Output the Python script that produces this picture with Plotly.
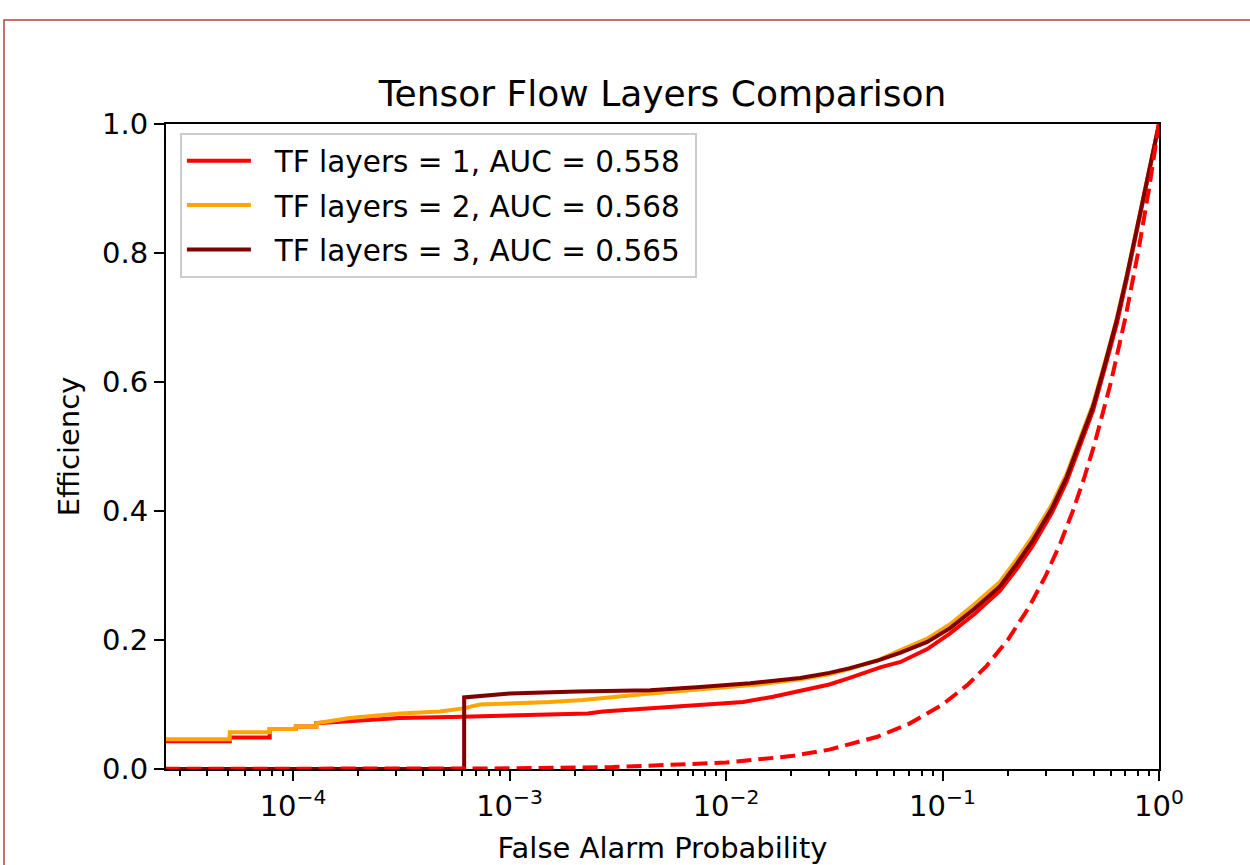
import plotly.graph_objects as go

# ---------------- data ----------------
tf1_fpr = [1e-5, 5.1e-5, 5.1e-5, 7.8e-5, 7.8e-5, 1.03e-4, 1.03e-4, 1.28e-4, 1.28e-4,
           1.6e-4, 3.1e-4, 6.1e-4, 1.5e-3, 2.3e-3, 2.7e-3, 6.3e-3, 0.012, 0.0165,
           0.022, 0.03, 0.037, 0.045, 0.052, 0.064, 0.085, 0.108, 0.14, 0.184, 0.22, 0.262,
           0.32, 0.375, 0.43, 0.496, 0.56, 0.638, 0.71, 0.789, 0.89, 1.0]
tf1_tpr = [0.043, 0.043, 0.049, 0.049, 0.062, 0.062, 0.066, 0.066, 0.071,
           0.073, 0.079, 0.081, 0.084, 0.086, 0.089, 0.097, 0.104, 0.112,
           0.121, 0.131, 0.141, 0.151, 0.158, 0.166, 0.186, 0.210, 0.240, 0.276, 0.310, 0.347,
           0.397, 0.446, 0.499, 0.556, 0.620, 0.690, 0.760, 0.832, 0.915, 1.0]

tf2_fpr = [1e-5, 5.1e-5, 5.1e-5, 7.8e-5, 7.8e-5, 1.03e-4, 1.03e-4, 1.28e-4, 1.28e-4,
           1.83e-4, 3.12e-4, 4.77e-4, 6.1e-4, 7.3e-4, 1.54e-3, 2.18e-3, 4.46e-3, 8.4e-3,
           0.015, 0.022, 0.03, 0.037, 0.0515, 0.0636, 0.085, 0.108, 0.14, 0.184, 0.22, 0.262,
           0.32, 0.375, 0.43, 0.496, 0.56, 0.638, 0.71, 0.789, 0.89, 1.0]
tf2_tpr = [0.046, 0.046, 0.057, 0.057, 0.062, 0.062, 0.066, 0.066, 0.071,
           0.079, 0.086, 0.089, 0.094, 0.100, 0.104, 0.107, 0.117, 0.125,
           0.132, 0.139, 0.147, 0.155, 0.170, 0.184, 0.202, 0.224, 0.255, 0.290, 0.325, 0.362,
           0.410, 0.458, 0.510, 0.566, 0.628, 0.698, 0.765, 0.837, 0.918, 1.0]

tf3_fpr = [1e-5, 6.17e-4, 6.17e-4, 1.0e-3, 2.05e-3, 4.46e-3, 7.6e-3, 0.0129, 0.022,
           0.03, 0.037, 0.05, 0.0636, 0.085, 0.108, 0.14, 0.184, 0.22, 0.262,
           0.32, 0.375, 0.43, 0.496, 0.56, 0.638, 0.71, 0.789, 0.89, 1.0]
tf3_tpr = [0.0, 0.0, 0.111, 0.117, 0.120, 0.122, 0.127, 0.133, 0.141,
           0.149, 0.156, 0.168, 0.180, 0.197, 0.218, 0.248, 0.283, 0.318, 0.355,
           0.404, 0.453, 0.505, 0.562, 0.625, 0.696, 0.764, 0.836, 0.917, 1.0]

# chance diagonal (efficiency = false alarm probability)
chance_fpr = [1e-5, 1e-4, 3e-4, 1e-3, 3e-3, 0.01, 0.02, 0.03, 0.05, 0.07, 0.1, 0.13,
              0.16, 0.2, 0.25, 0.3, 0.35, 0.4, 0.45, 0.5, 0.6, 0.7, 0.8, 0.9, 1.0]
chance_tpr = list(chance_fpr)

labels = ["TF layers = 1, AUC = 0.558",
          "TF layers = 2, AUC = 0.568",
          "TF layers = 3, AUC = 0.565"]
colors = ["#ff0000", "#ffa500", "#800000"]

x_tickvals = [1e-4, 1e-3, 1e-2, 1e-1, 1.0]
x_ticktext = ["10<sup>\u22124</sup>", "10<sup>\u22123</sup>", "10<sup>\u22122</sup>",
              "10<sup>\u22121</sup>", "10<sup>0</sup>"]
x_minor = [k * 10.0 ** e for e in range(-5, 0) for k in range(2, 10) if k * 10.0 ** e >= 2.5e-5]

FONT = "DejaVu Sans"

fig = go.Figure()
for i, (fpr, tpr, lab, col) in enumerate(zip([tf1_fpr, tf2_fpr, tf3_fpr],
                                             [tf1_tpr, tf2_tpr, tf3_tpr], labels, colors)):
    fig.add_trace(go.Scatter(x=fpr, y=tpr, mode="lines", name="\u00a0\u00a0" + lab + "\u00a0",
                             legendgroup="g%d" % i, line=dict(color=col, width=4)))
fig.add_trace(go.Scatter(x=chance_fpr, y=chance_tpr, mode="lines", showlegend=False,
                         line=dict(color="#ff0000", width=4, dash="15px,7px")))

fig.update_layout(
    width=1250, height=865,
    paper_bgcolor="white", plot_bgcolor="white",
    margin=dict(l=166, r=91, t=124, b=96),
    font=dict(family=FONT, size=29, color="black"),
    title=dict(text="Tensor Flow Layers Comparison", font=dict(size=36, family=FONT, color="black"),
               x=0.53, xanchor="center", y=1 - 93 / 865, yanchor="middle", yref="container"),
    legend=dict(x=0.014, y=0.986, xanchor="left", yanchor="top",
                bgcolor="rgba(255,255,255,0.8)", bordercolor="#cccccc", borderwidth=2,
                tracegroupgap=3, itemwidth=64,
                font=dict(size=29.5, family=FONT, color="black")),
    showlegend=True,
)
fig.update_xaxes(
    type="log", range=[-4.587, 0], automargin=False,
    tickmode="array", tickvals=x_tickvals, ticktext=x_ticktext,
    ticks="outside", ticklen=10, tickwidth=2, tickcolor="black",
    showline=True, linecolor="black", linewidth=2, mirror=True,
    showgrid=False, zeroline=False,
    minor=dict(tickmode="array", tickvals=x_minor, ticks="outside", ticklen=5,
               tickwidth=1.5, tickcolor="black", showgrid=False),
    tickfont=dict(size=29, family=FONT, color="black"),
    title=dict(text="False Alarm Probability", font=dict(size=29, family=FONT, color="black"), standoff=17),
)
fig.update_yaxes(
    range=[0, 1], tickmode="array", tickvals=[0, 0.2, 0.4, 0.6, 0.8, 1.0], tickformat=".1f",
    automargin=False,
    ticks="outside", ticklen=10, tickwidth=2, tickcolor="black",
    showline=True, linecolor="black", linewidth=2, mirror=True,
    showgrid=False, zeroline=False,
    tickfont=dict(size=29, family=FONT, color="black"),
    title=dict(text="Efficiency", font=dict(size=29, family=FONT, color="black"), standoff=14),
)
# figure frame (edge of the saved figure)
fig.add_shape(type="rect", xref="paper", yref="paper",
              x0=(4 - 166) / 993, x1=1.3, y0=-0.3, y1=(769 - 20) / 645,
              line=dict(color="#b04444", width=1.5), fillcolor="rgba(0,0,0,0)", layer="below")

fig.write_html("out.html", config={"displayModeBar": False},
               post_script="document.body.style.margin='0px';")
